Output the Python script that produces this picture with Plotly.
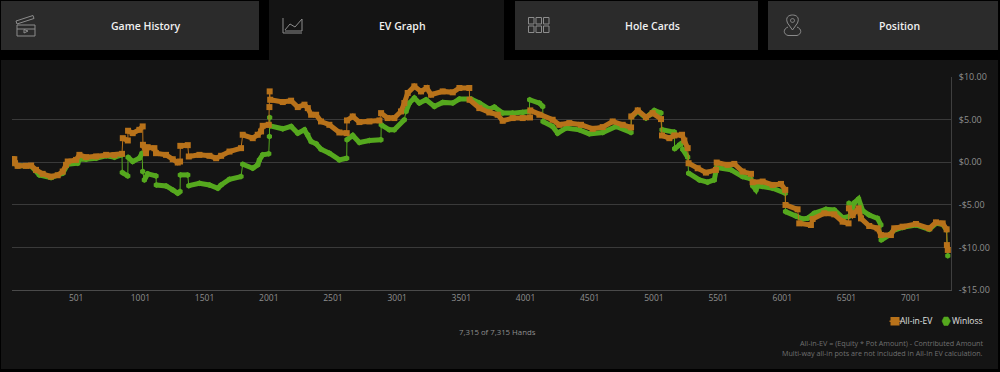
import plotly.graph_objects as go

TICK_HANDS = [501, 1001, 1501, 2001, 2501, 3001, 3501, 4001, 4501, 5001, 5501, 6001, 6501, 7001]
TICK_DOLLARS = [10, 5, 0, -5, -10, -15]
TICK_DOLLAR_LABELS = ["$10.00", "$5.00", "$0.00", "-$5.00", "-$10.00", "-$15.00"]
TAB_LABELS = ["Game History", "EV Graph", "Hole Cards", "Position"]
SERIES_NAMES = ["All-in-EV", "Winloss"]
HANDS_LABEL = "7,315 of 7,315 Hands"
NOTE_LINES = ["All-in-EV = (Equity * Pot Amount) - Contributed Amount",
              "Multi-way all-in pots are not included in All-In EV calculation."]

EV_HANDS = [1, 19, 25, 45, 110, 150, 188, 240, 305, 357, 396, 422, 435, 500, 526, 578, 656, 734, 799, 858,
            864, 903, 905, 941, 993, 1019, 1021, 1045, 1058, 1110, 1123, 1201, 1253, 1292, 1310, 1312, 1370, 1378,
            1461, 1539, 1591, 1630, 1695, 1785, 1798, 1876, 1915, 1941, 1954, 2001, 2006, 2008, 2012, 2110, 2175,
            2227, 2279, 2305, 2331, 2370, 2408, 2473, 2551, 2608, 2610, 2655, 2707, 2785, 2863, 2876, 2927, 2979,
            3031, 3057, 3083, 3135, 3187, 3231, 3265, 3356, 3434, 3486, 3563, 3565, 3641, 3719, 3784, 3823, 3901,
            3979, 4036, 4038, 4109, 4212, 4264, 4342, 4433, 4524, 4602, 4680, 4758, 4823, 4825, 4875, 4939, 4991,
            5056, 5064, 5121, 5160, 5220, 5238, 5264, 5271, 5342, 5406, 5484, 5490, 5575, 5627, 5692, 5757, 5770,
            5848, 5926, 5991, 6024, 6026, 6120, 6133, 6224, 6237, 6328, 6406, 6471, 6517, 6520, 6549, 6595, 6614,
            6678, 6743, 6769, 6847, 6873, 6938, 7042, 7146, 7198, 7250, 7281, 7283, 7290]
EV_VALUES = [0.35, 0.35, -0.12, -0.43, -0.43, -0.39, -0.9, -1.37, -1.69, -1.53, -1.1, -0.31, 0.08, 0.27, 0.86, 0.59, 0.67, 0.86, 0.82, 0.98,
             2.82, 2.55, 3.69, 3.41, 3.8, 4.2, 2.04, 1.06, 1.76, 1.65, 1.06, 0.86, 0.35, -0.04, 0.08, 1.92, 2.0, 0.67,
             0.86, 0.75, 0.47, 0.75, 1.25, 1.65, 3.22, 2.82, 3.22, 3.61, 4.27, 4.39, 6.47, 8.31, 7.33, 7.06, 7.22,
             6.47, 6.75, 6.35, 5.57, 5.57, 4.78, 4.39, 3.49, 3.41, 4.9, 5.37, 4.71, 4.78, 4.9, 5.76, 5.18, 5.18,
             5.96, 6.94, 8.12, 8.9, 8.31, 8.71, 7.92, 8.31, 8.2, 8.71, 8.71, 7.33, 6.35, 5.84, 5.57, 4.86, 5.18,
             5.18, 5.25, 6.08, 5.57, 4.98, 4.39, 4.59, 4.39, 3.92, 4.12, 4.78, 4.39, 4.08, 5.37, 6.08, 5.29, 5.76,
             5.06, 3.14, 2.82, 3.14, 3.22, 2.55, 1.65, -0.12, -0.71, -1.22, -0.9, -0.04, -0.31, -0.2, -1.1, -1.37, -2.35,
             -2.27, -2.67, -2.55, -3.25, -5.02, -5.53, -7.18, -7.37, -6.67, -6.0, -6.12, -6.98, -7.18, -5.41, -6.2, -5.41, -6.59,
             -7.49, -7.76, -8.55, -8.55, -7.76, -7.57, -7.25, -7.76, -7.06, -7.18, -7.88, -9.73, -10.3]

WL_HANDS = [1, 19, 25, 45, 110, 150, 214, 305, 396, 435, 513, 526, 578, 656, 734, 799, 858,
            860, 903, 905, 941, 993, 1014, 1019, 1032, 1058, 1123, 1125, 1201, 1253, 1292, 1310, 1312, 1370, 1378,
            1461, 1539, 1604, 1630, 1695, 1785, 1798, 1876, 1915, 1928, 1954, 2001, 2006, 2008, 2012, 2110, 2175,
            2227, 2279, 2305, 2331, 2370, 2408, 2473, 2551, 2608, 2610, 2655, 2707, 2785, 2875, 2877, 2940, 2979,
            3057, 3070, 3096, 3135, 3174, 3226, 3291, 3356, 3434, 3486, 3576, 3641, 3719, 3758, 3823, 3901, 3979,
            4031, 4033, 4109, 4135, 4137, 4212, 4251, 4316, 4420, 4498, 4602, 4706, 4823, 4825, 4875, 4939, 4975,
            5004, 5056, 5064, 5147, 5160, 5162, 5201, 5220, 5225, 5264, 5271, 5355, 5419, 5471, 5490, 5601, 5692,
            5757, 5770, 5796, 5809, 5926, 6024, 6026, 6107, 6159, 6198, 6250, 6341, 6406, 6471, 6517, 6520, 6549,
            6562, 6595, 6627, 6678, 6743, 6769, 6771, 6834, 6873, 6938, 7042, 7146, 7198, 7250, 7281, 7290]
WL_VALUES = [0.35, 0.35, -0.12, -0.43, -0.43, -0.45, -1.49, -1.8, -1.29, -0.24, -0.12, 0.35, 0.35, 0.47, 0.75, 0.59, 0.86,
             -1.22, -1.61, 0.59, 0.08, 0.47, 1.06, -1.1, -2.08, -1.37, -1.61, -2.67, -2.78, -3.25, -3.65, -3.45, -1.49, -1.49, -2.75,
             -2.47, -2.67, -3.06, -2.67, -2.0, -1.69, -0.24, -0.71, -0.31, 0.27, 0.86, 0.98, 3.02, 5.25, 4.27, 3.92, 4.2,
             3.41, 3.8, 3.22, 2.43, 2.16, 1.53, 1.06, 0.27, 0.47, 2.63, 3.14, 2.31, 2.55, 2.63, 4.39, 3.8, 3.8,
             4.98, 5.96, 6.94, 7.53, 6.94, 7.33, 6.55, 7.02, 6.94, 7.41, 7.41, 6.94, 6.24, 6.47, 5.76, 5.76, 5.84,
             5.96, 7.33, 6.94, 6.55, 4.78, 4.2, 3.41, 4.0, 3.8, 3.33, 3.49, 4.2, 3.49, 5.3, 6.0, 5.2, 5.6,
             6.08, 5.76, 3.8, 3.49, 3.53, 1.57, 2.04, 2.24, 1.53, 0.59, -1.29, -2.08, -2.35, -2.08, -0.63, -0.9, -1.69,
             -1.96, -2.75, -3.25, -2.78, -3.06, -3.65, -5.8, -6.31, -6.67, -6.59, -6.0, -5.53, -5.61, -6.51, -6.39, -4.82, -5.29,
             -4.75, -4.31, -5.69, -6.2, -6.59, -7.37, -9.14, -8.55, -7.96, -7.65, -7.37, -7.88, -7.18, -7.29, -7.96, -10.98]

ORANGE = "#b8721a"
GREEN = "#55a81e"
PANEL = "#141414"
TAB = "#2b2b2b"
ICON = "#8c8c8c"

# plot-area box, in page pixels
L, R, T, B = 12, 951, 77, 290


def fx(x):
    return (x - L) / (R - L)


def fy(y):
    return (B - y) / (B - T)


def rect(x0, y0, x1, y1, fill, layer="below"):
    return dict(type="rect", xref="paper", yref="paper", x0=fx(x0), x1=fx(x1), y0=fy(y0), y1=fy(y1),
                fillcolor=fill, line_width=0, layer=layer)


def icon_path(cmds, width=1, color=ICON, fill="rgba(0,0,0,0)"):
    parts = []
    for c in cmds:
        if isinstance(c, str):
            parts.append(c)
        else:
            parts.append(f"{fx(c[0]):.5f},{fy(c[1]):.5f}")
    return dict(type="path", xref="paper", yref="paper", path=" ".join(parts),
                line=dict(color=color, width=width), fillcolor=fill, layer="above")


def broken(xs, ys):
    """Insert gaps at the near-vertical jumps so the heavy band stays separate."""
    ox, oy = [xs[0]], [ys[0]]
    for i in range(1, len(xs)):
        if xs[i] - xs[i - 1] <= 14 and abs(ys[i] - ys[i - 1]) > 0.7:
            ox.append(None)
            oy.append(None)
        ox.append(xs[i])
        oy.append(ys[i])
    return ox, oy


fig = go.Figure()
for xs, ys, color, symbol in [(WL_HANDS, WL_VALUES, GREEN, "hexagon"),
                              (EV_HANDS, EV_VALUES, ORANGE, "square")]:
    bx, by = broken(xs, ys)
    fig.add_trace(go.Scatter(x=xs, y=ys, mode="lines+markers", showlegend=False, hoverinfo="skip",
                             line=dict(color=color, width=1),
                             marker=dict(color=color, size=6, symbol=symbol)))
    fig.add_trace(go.Scatter(x=bx, y=by, mode="lines", showlegend=False, hoverinfo="skip",
                             line=dict(color=color, width=5)))

shapes = [
    rect(1, 60, 998, 369, PANEL),
    rect(1, 1, 259, 50, TAB),
    rect(269, 0, 504, 62, PANEL),
    rect(515, 1, 758, 50, TAB),
    rect(768, 1, 998, 50, TAB),
]
# clapperboard icon
shapes += [
    icon_path(["M", (17, 25), "L", (35, 25), "L", (35, 36), "L", (17, 36), "Z"]),
    icon_path(["M", (16, 21), "L", (33, 15.5), "L", (34, 18.5), "L", (17, 24), "Z"]),
    icon_path(["M", (17, 29), "L", (35, 29)]),
    icon_path(["M", (24, 29.5), "L", (28, 31), "L", (24, 33), "Z"]),
]
# area-graph icon
shapes += [
    icon_path(["M", (283, 18), "L", (283, 33), "L", (302, 33)]),
    icon_path(["M", (285, 30), "L", (290, 24), "L", (295, 27), "L", (302, 19), "L", (302, 31), "L", (285, 31)]),
]
# grid icon
for gx in (528.5, 536, 543.5):
    for gy in (17.5, 26):
        shapes.append(icon_path(["M", (gx, gy), "L", (gx + 5.5, gy), "L", (gx + 5.5, gy + 6.5), "L", (gx, gy + 6.5), "Z"]))
# location-pin icon
shapes += [
    icon_path(["M", (792.5, 30), "L", (787.5, 23), "C", (785, 17), (789, 15), (792.5, 15), "C", (796, 15), (800, 17), (797.5, 23), "Z"]),
    icon_path(["M", (790.5, 20.5), "C", (790.5, 18), (794.5, 18), (794.5, 20.5), "C", (794.5, 23), (790.5, 23), (790.5, 20.5), "Z"]),
    icon_path(["M", (788, 27), "C", (783, 29), (783, 34), (788, 35.5), "L", (797, 35.5), "C", (802, 34), (802, 29), (797, 27)]),
]
# legend symbols
shapes += [
    rect(890.5, 317, 899.5, 325.5, ORANGE, "above"),
    rect(889.5, 320.5, 901, 322, ORANGE, "above"),
    icon_path(["M", (942, 321), "L", (944, 317), "L", (948, 317), "L", (950.5, 321), "L", (948, 325.5), "L", (944, 325.5), "Z"],
              width=0.5, color=GREEN, fill=GREEN),
]

tab_centers = [146, 402, 652, 899]
annotations = [
    dict(text=t, x=fx(c), y=fy(26), xref="paper", yref="paper", xanchor="center", yanchor="middle", showarrow=False,
         font=dict(family="Open Sans", size=10.5, color="#f0f0f0", weight=600))
    for t, c in zip(TAB_LABELS, tab_centers)
]
annotations.append(dict(text=HANDS_LABEL, x=fx(497), y=fy(332), xref="paper", yref="paper", xanchor="center",
                        yanchor="middle", showarrow=False, font=dict(family="Open Sans", size=7.8, color="#8f8f8f")))
for line, ypx in zip(NOTE_LINES, (343, 352.5)):
    annotations.append(dict(text=line, x=fx(985), y=fy(ypx), xref="paper", yref="paper", xanchor="right",
                            yanchor="middle", showarrow=False, font=dict(family="Open Sans", size=7.2, color="#707070")))
for label, right in zip(SERIES_NAMES, (935, 985)):
    annotations.append(dict(text=label, x=fx(right), y=fy(320.5), xref="paper", yref="paper", xanchor="right",
                            yanchor="middle", showarrow=False, font=dict(family="Open Sans", size=8.5, color="#e0e0e0")))

fig.update_layout(
    width=1000, height=372, autosize=False,
    margin=dict(l=L, r=1000 - R, t=T, b=372 - B, pad=0, autoexpand=False),
    paper_bgcolor="#000000", plot_bgcolor=PANEL,
    font=dict(family="Open Sans", color="#9a9a9a"),
    shapes=shapes, annotations=annotations,
    showlegend=False,
    hovermode=False,
)
fig.update_xaxes(range=[1, 7315], tickmode="array", tickvals=TICK_HANDS, showgrid=False, zeroline=False, automargin=False,
                 showline=True, linecolor="#4a4a4a", linewidth=1, ticks="", tickfont=dict(size=8.5, color="#8f8f8f"))
fig.update_yaxes(range=[-15, 10], side="right", tickmode="array", tickvals=TICK_DOLLARS, ticktext=TICK_DOLLAR_LABELS,
                 showgrid=True, gridcolor="#3a3a3a", gridwidth=1, zeroline=False, showline=True, linecolor="#3f3f3f",
                 automargin=False, linewidth=1, ticks="", ticklabelstandoff=5, tickfont=dict(size=9, color="#8f8f8f"))

fig.write_html("out.html", config={"displayModeBar": False},
               post_script="document.body.style.margin='0';document.body.style.background='#000';document.body.style.overflow='hidden';")
